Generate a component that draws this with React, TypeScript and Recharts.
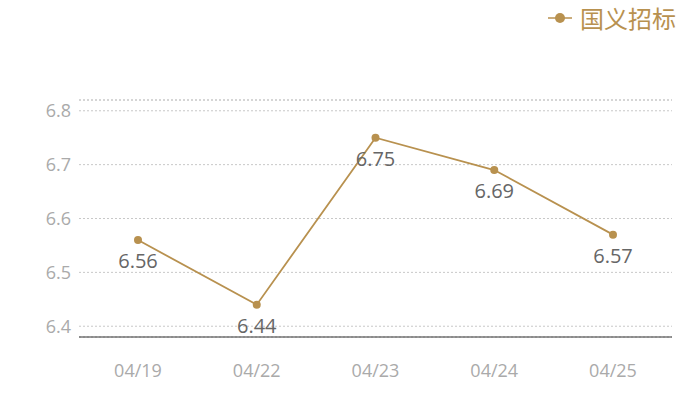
import React from 'react';
import { LineChart, Line, XAxis, YAxis, CartesianGrid, LabelList, ReferenceLine } from 'recharts';

const categories = ['04/19', '04/22', '04/23', '04/24', '04/25'];
const values = [6.56, 6.44, 6.75, 6.69, 6.57];
const yTicks = [6.4, 6.5, 6.6, 6.7, 6.8];
const seriesName = '国义招标';

const data = categories.map((c, i) => ({ date: c, v: values[i] }));

const COLOR = '#b8914f';
const FONT = '"Open Sans", "Noto Sans CJK SC", sans-serif';
const CJK = '"Noto Sans CJK SC", sans-serif';

export default function App() {
  return (
    <div style={{ position: 'absolute', left: 0, top: 0, width: 700, height: 400, background: '#fff' }}>
      <div style={{ position: 'absolute', top: 3, right: 24, display: 'flex', alignItems: 'center', fontFamily: CJK, zIndex: 2 }}>
        <svg width={26} height={12} style={{ marginRight: 6 }}>
          <line x1={0} y1={6} x2={24} y2={6} stroke={COLOR} strokeWidth={1.5} />
          <circle cx={12} cy={6} r={5} fill={COLOR} />
        </svg>
        <span style={{ color: COLOR, fontSize: 24, lineHeight: '30px' }}>{seriesName}</span>
      </div>
      <LineChart width={700} height={400} data={data} margin={{ top: 100, right: 28, bottom: 33, left: 0 }}>
        <CartesianGrid vertical={false} stroke="#c8c8c8" strokeDasharray="2 2" />
        <ReferenceLine y={6.82} stroke="#c8c8c8" strokeDasharray="2 2" />
        <XAxis
          dataKey="date"
          tickLine={false}
          axisLine={{ stroke: '#333' }}
          padding={{ left: 59, right: 59 }}
          tickMargin={21}
          tick={{ fill: '#aaa', fontSize: 18, fontFamily: FONT }}
        />
        <YAxis
          width={79}
          domain={[6.38, 6.82]}
          ticks={yTicks}
          tickLine={false}
          axisLine={false}
          tick={{ fill: '#aaa', fontSize: 18, fontFamily: FONT }}
          tickFormatter={(v: number) => v.toFixed(1)}
        />
        <Line
          type="linear"
          dataKey="v"
          name={seriesName}
          stroke={COLOR}
          strokeWidth={1.8}
          dot={{ r: 4, fill: COLOR, stroke: COLOR, strokeWidth: 0 }}
          isAnimationActive={false}
        >
          <LabelList dataKey="v" position="bottom" offset={14} style={{ fill: '#666', fontSize: 20, fontFamily: FONT }} />
        </Line>
      </LineChart>
    </div>
  );
}
